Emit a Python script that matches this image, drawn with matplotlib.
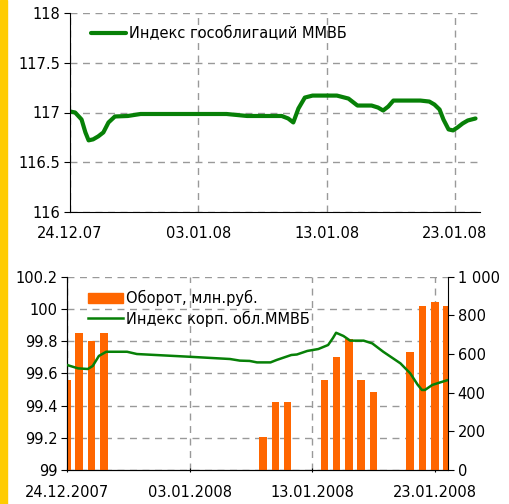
import matplotlib
matplotlib.use("Agg")
import matplotlib.pyplot as plt
from matplotlib.patches import Rectangle

plt.rcParams['font.family'] = ['DejaVu Sans']

# ---- данные (дни от 24.12.2007) ----
tick_days = [0, 10, 20, 30]
ticks_top = ["24.12.07", "03.01.08", "13.01.08", "23.01.08"]
ticks_bot = ["24.12.2007", "03.01.2008", "13.01.2008", "23.01.2008"]

gos_days = [0, 0.4, 0.9, 1.2, 1.45, 1.8, 2.2, 2.6, 3.0, 3.5, 4.5, 5.5, 9.0, 12.2, 13.8,
            16.5, 17.0, 17.4, 17.8, 18.3, 18.9, 20.8, 21.7, 22.1, 22.4, 23.5, 24.0, 24.4,
            24.8, 25.2, 27.3, 28.0, 28.4, 28.8, 29.1, 29.5, 29.85, 30.2, 30.6, 31.0, 31.6]
gos_vals = [117.01, 117.00, 116.93, 116.80, 116.72, 116.73, 116.76, 116.80, 116.90, 116.96,
            116.965, 116.985, 116.985, 116.985, 116.965, 116.965, 116.94, 116.90, 117.04,
            117.15, 117.17, 117.17, 117.14, 117.10, 117.07, 117.07, 117.05, 117.02, 117.06,
            117.12, 117.12, 117.11, 117.08, 117.03, 116.93, 116.83, 116.82, 116.85, 116.89,
            116.92, 116.94]

bar_days = [0, 1, 2, 3, 16, 17, 18, 21, 22, 23, 24, 25, 28, 29, 30, 31]
bar_vals = [465, 710, 668, 710, 172, 353, 353, 465, 586, 676, 465, 405, 609, 850, 871, 850]

korp_days = [0, 0.9, 1.7, 2.1, 2.6, 3.2, 4.9, 5.7, 10.0, 13.3, 14.1, 14.9, 15.5, 16.6,
             17.1, 18.3, 18.75, 19.6, 20.5, 21.3, 21.7, 21.95, 22.55, 23.1, 24.2, 24.9, 25.8,
             27.2, 28.0, 28.6, 28.95, 29.2, 29.8, 30.45, 31.1]
korp_vals = [99.652, 99.631, 99.627, 99.646, 99.708, 99.734, 99.734, 99.72, 99.703, 99.689,
             99.679, 99.677, 99.668, 99.668, 99.683, 99.714, 99.717, 99.739, 99.751, 99.776,
             99.82, 99.852, 99.832, 99.803, 99.803, 99.786, 99.734, 99.662, 99.60, 99.53,
             99.497, 99.497, 99.528, 99.544, 99.559]

green = "#078007"
orange = "#FF6600"
grid_kw = dict(color="#999999", linestyle=(0, (5, 4)), linewidth=1.0)

fig = plt.figure(figsize=(5.09, 5.04), dpi=100)
fig.patches.append(Rectangle((0, 0), 7 / 509, 1, transform=fig.transFigure,
                             color="#FFCC00", zorder=0))

# ======== верхний график ========
ax1 = fig.add_axes([70 / 509, 292 / 504, 410 / 509, 199 / 504])
ax1.plot(gos_days, gos_vals, color=green, lw=3.0, solid_capstyle="round",
         solid_joinstyle="round", label="Индекс гособлигаций ММВБ")
ax1.set_xlim(0, 31.95)
ax1.set_ylim(116, 118)
ax1.set_yticks([116, 116.5, 117, 117.5, 118])
ax1.set_yticklabels(["116", "116.5", "117", "117.5", "118"])
ax1.set_xticks(tick_days)
ax1.set_xticklabels(ticks_top)
ax1.grid(True, **grid_kw)
for s in ["top", "right"]:
    ax1.spines[s].set_visible(False)
ax1.tick_params(axis="y", length=4, pad=3, labelsize=10.5)
ax1.tick_params(axis="x", length=0, pad=10, labelsize=10.5)
ax1.legend(loc="upper left", frameon=False, fontsize=10.5, handlelength=2.4,
           handletextpad=0.2, bbox_to_anchor=(0.02, 1.0))

# ======== нижний график ========
ax2 = fig.add_axes([67 / 509, 34 / 504, 381 / 509, 193.3 / 504])
ax3 = ax2.twinx()
ax3.bar(bar_days, bar_vals, width=0.62, color=orange, zorder=2)
ax3.plot(korp_days, [(v - 99) / 1.2 * 1000 for v in korp_vals], color=green, lw=1.8,
         solid_joinstyle="round", zorder=3)
ax2.set_xlim(0, 31.08)
ax2.set_ylim(99, 100.2)
ax3.set_ylim(0, 1000)
ax2.set_yticks([99, 99.2, 99.4, 99.6, 99.8, 100, 100.2])
ax2.set_yticklabels(["99", "99.2", "99.4", "99.6", "99.8", "100", "100.2"])
ax3.set_yticks([0, 200, 400, 600, 800, 1000])
ax3.set_yticklabels(["0", "200", "400", "600", "800", "1 000"])
ax2.set_xticks(tick_days)
ax2.set_xticklabels(ticks_bot)
ax2.grid(True, **grid_kw)
for a in (ax2, ax3):
    a.spines["top"].set_visible(False)
ax2.spines["right"].set_visible(False)
ax2.tick_params(axis="y", length=4, pad=3, labelsize=10.5)
ax3.tick_params(axis="y", length=4, pad=3, labelsize=10.5)
ax2.tick_params(axis="x", length=3, direction="inout", pad=9, labelsize=10.5)

handles = [Rectangle((0, 0), 1, 1, color=orange), plt.Line2D([], [], color=green, lw=1.8)]
ax3.legend(handles, ["Оборот, млн.руб.", "Индекс корп. обл.ММВБ"], loc="upper left",
           frameon=False, fontsize=10.5, handlelength=2.4, handletextpad=0.2,
           labelspacing=0.3, bbox_to_anchor=(0.02, 1.0))

fig.savefig("out.png", dpi=100)
